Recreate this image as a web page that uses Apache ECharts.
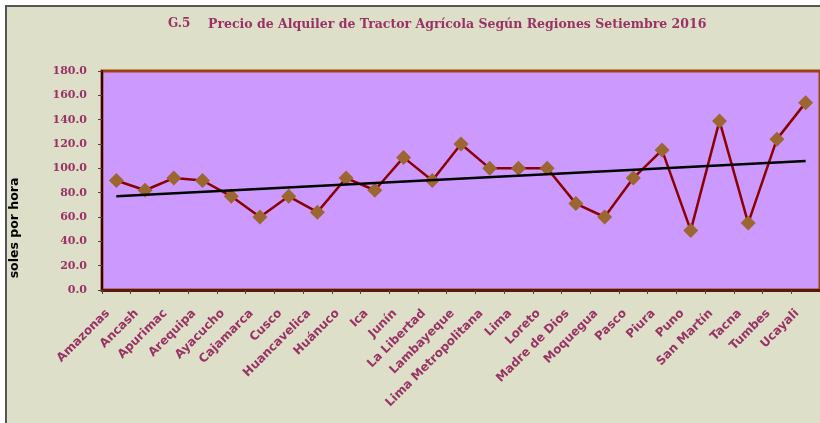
<!DOCTYPE html>
<html>
<head>
<meta charset="utf-8">
<script src="https://cdn.jsdelivr.net/npm/echarts@6/dist/echarts.min.js"></script>
<style>
  html, body { margin: 0; padding: 0; background: #ffffff; }
  #root { width: 820px; height: 423px; }
</style>
</head>
<body>
<div id="root"></div>
<script>
  // regions (categories)
  var regions = ['Amazonas', 'Ancash', 'Apurimac', 'Arequipa', 'Ayacucho', 'Cajamarca', 'Cusco',
    'Huancavelica', 'Huánuco', 'Ica', 'Junín', 'La Libertad', 'Lambayeque', 'Lima Metropolitana',
    'Lima', 'Loreto', 'Madre de Dios', 'Moquegua', 'Pasco', 'Piura', 'Puno', 'San Martín',
    'Tacna', 'Tumbes', 'Ucayali']

  // soles por hora
  var precio = [90, 82, 92, 90, 77, 60, 77, 64, 92, 82, 109, 90, 120, 100, 100, 100,
    71, 60, 92, 115, 49, 139, 55, 124, 154]

  // linear trend line, start and end values
  var trendStart = 77
  var trendEnd = 106

  var chart = echarts.init(document.getElementById('root'))

  var option = {
    backgroundColor: '#ffffff',
    animation: false,
    graphic: [
      {
        type: 'rect',
        z: -1,
        shape: { x: 6, y: 6, width: 830, height: 430 },
        style: { fill: '#DEDFC8', stroke: '#555555', lineWidth: 2 }
      },
      {
        type: 'text',
        left: 168, top: 18,
        style: { text: 'G.5', fill: '#993366', font: 'bold 12px "DejaVu Serif"' }
      },
      {
        type: 'text',
        left: 208, top: 18,
        style: {
          text: 'Precio de Alquiler de Tractor Agrícola Según Regiones Setiembre 2016',
          fill: '#993366', font: 'bold 12.5px "DejaVu Serif"'
        }
      },
      {
        type: 'text',
        x: 15, y: 228,
        rotation: Math.PI / 2,
        style: {
          text: 'soles por hora', fill: '#000000',
          font: 'bold 12.5px "DejaVu Sans"', align: 'center', verticalAlign: 'middle'
        }
      }
    ],
    grid: {
      left: 102, top: 71, width: 720, height: 219,
      show: true,
      backgroundColor: '#CC99FF',
      borderColor: '#A0400F',
      borderWidth: 3
    },
    xAxis: {
      type: 'category',
      data: regions,
      boundaryGap: true,
      axisLine: { lineStyle: { color: '#5A1A08', width: 3 } },
      axisTick: { show: true, length: 4, lineStyle: { color: '#444444' } },
      axisLabel: {
        interval: 0,
        rotate: 45,
        margin: 13,
        padding: [0, 12, 0, 0],
        color: '#993366',
        fontFamily: 'DejaVu Sans',
        fontWeight: 'bold',
        fontSize: 12
      },
      splitLine: { show: false }
    },
    yAxis: {
      type: 'value',
      min: 0,
      max: 180,
      interval: 20,
      axisLine: { show: true, lineStyle: { color: '#2A0A00', width: 2 } },
      axisTick: { show: true, length: 4, lineStyle: { color: '#444444' } },
      axisLabel: {
        margin: 15,
        color: '#993366',
        fontFamily: 'DejaVu Serif',
        fontWeight: 'bold',
        fontSize: 11,
        formatter: function (v) { return v.toFixed(1) }
      },
      splitLine: { show: false }
    },
    series: [
      {
        name: 'Precio',
        type: 'line',
        data: precio,
        symbol: 'diamond',
        symbolSize: 15,
        itemStyle: { color: '#9C6631' },
        lineStyle: { color: '#8B0000', width: 2.5 },
        z: 3
      },
      {
        name: 'Tendencia',
        type: 'line',
        data: [],
        z: 4,
        markLine: {
          silent: true,
          symbol: 'none',
          label: { show: false },
          lineStyle: { color: '#000000', width: 2.5, type: 'solid' },
          data: [[
            { coord: [regions[0], trendStart] },
            { coord: [regions[regions.length - 1], trendEnd] }
          ]]
        }
      }
    ]
  }

  chart.setOption(option)
</script>
</body>
</html>
